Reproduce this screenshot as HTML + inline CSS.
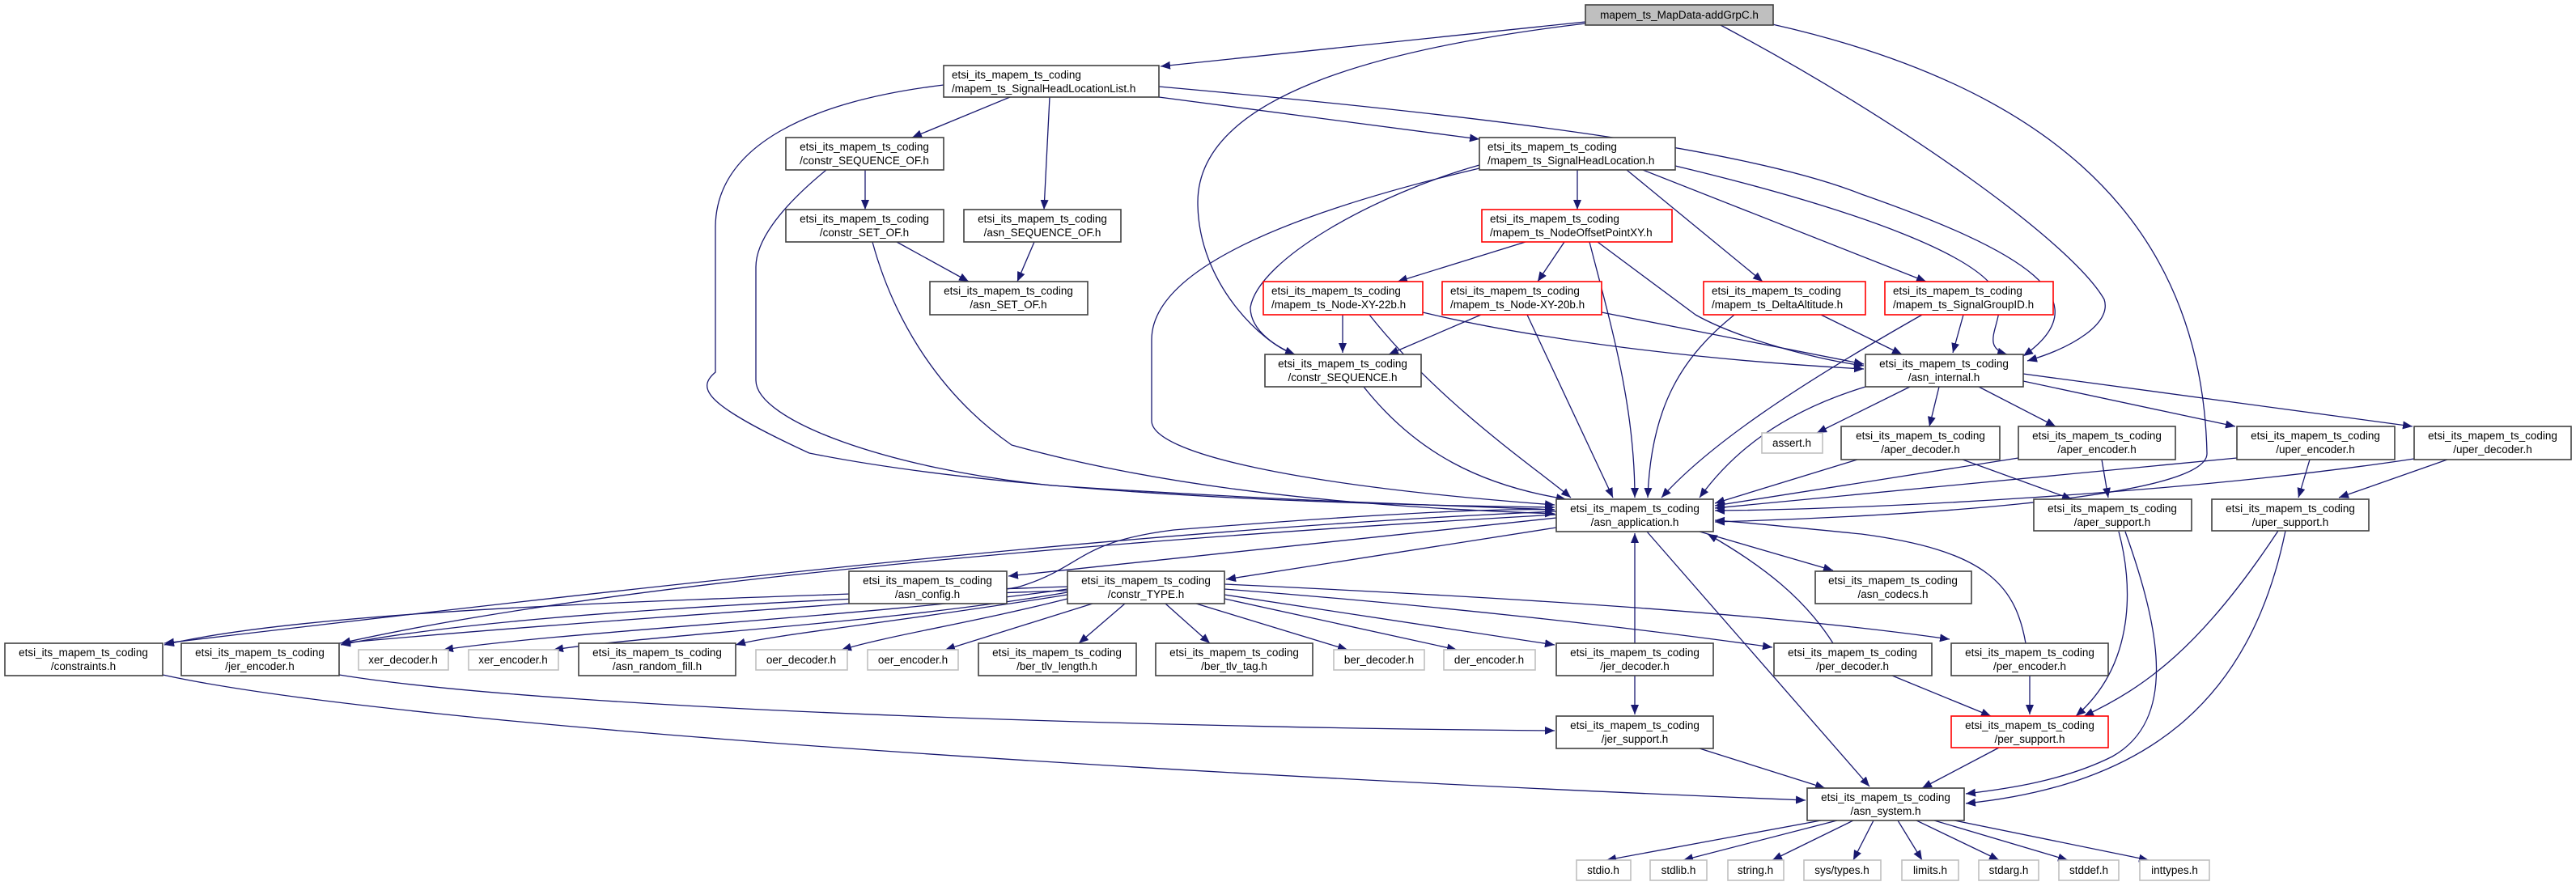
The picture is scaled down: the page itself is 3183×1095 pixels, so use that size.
<!DOCTYPE html>
<html><head><meta charset="utf-8"><style>
html,body{margin:0;padding:0;background:#fff;}
svg{display:block;}
text{font-family:"Liberation Sans",sans-serif;font-size:13.5px;fill:#000;}
.b{fill:#fff;stroke:#404040;stroke-width:1.6;}
.r{fill:#fff;stroke:#ff0000;stroke-width:1.6;}
.g{fill:#fff;stroke:#bfbfbf;stroke-width:1.6;}
.e{fill:none;stroke:#191970;stroke-width:1.3;marker-end:url(#a);}
</style></head><body>
<svg width="3183" height="1095" viewBox="0 0 3183 1095" xmlns="http://www.w3.org/2000/svg">
<defs><marker id="a" markerUnits="userSpaceOnUse" markerWidth="13" markerHeight="10" refX="12" refY="5" orient="auto"><path d="M0,0 L12,5 L0,10 z" fill="#191970"/></marker></defs>
<g>
<path class="e" d="M1959,27 L1434,82"/>
<path class="e" d="M1959,29 C1700,60 1480,120 1480,250 C1480,350 1560,425 1600,438"/>
<path class="e" d="M2126,31 C2350,150 2560,300 2600,370 C2610,400 2560,430 2505,446"/>
<path class="e" d="M2190,30 C2500,100 2720,250 2727,560 C2730,620 2300,640 2119,645"/>
<path class="e" d="M1248,120 L1127,170"/>
<path class="e" d="M1297,120 L1290,259"/>
<path class="e" d="M1432,120 L1828,172"/>
<path class="e" d="M1432,107 C1800,140 2150,180 2300,240 C2500,310 2600,370 2500,440"/>
<path class="e" d="M1166,105 C1000,125 885,180 884,280 L884,460 C860,480 870,500 1000,560 C1300,620 1800,625 1921,627"/>
<path class="e" d="M1021,210 C960,260 934,300 934,330 L934,470 C934,520 1100,580 1300,600 C1600,620 1800,625 1921,630"/>
<path class="e" d="M1069,210 L1069,259"/>
<path class="e" d="M1108,299 L1197,348"/>
<path class="e" d="M1278,299 L1257,348"/>
<path class="e" d="M1078,299 C1100,380 1150,480 1250,550 C1500,620 1800,630 1921,635"/>
<path class="e" d="M1949,210 L1949,259"/>
<path class="e" d="M1828,204 C1700,240 1555,320 1545,380 C1545,410 1580,430 1600,438"/>
<path class="e" d="M1828,208 C1650,250 1423,320 1423,420 L1423,520 C1423,560 1600,600 1921,624"/>
<path class="e" d="M2010,210 L2178,348"/>
<path class="e" d="M2030,210 L2380,348"/>
<path class="e" d="M2070,205 C2300,260 2460,320 2470,370 C2475,400 2445,428 2480,438"/>
<path class="e" d="M1885,299 L1727,348"/>
<path class="e" d="M1933,299 L1900,348"/>
<path class="e" d="M1964,299 C1990,400 2020,500 2020,615"/>
<path class="e" d="M1974,299 L2095,389 C2150,420 2250,445 2303,452"/>
<path class="e" d="M1659,389 L1659,436"/>
<path class="e" d="M1692,389 C1780,500 1900,580 1941,615"/>
<path class="e" d="M1758,386 C1900,420 2100,445 2303,456"/>
<path class="e" d="M1830,389 L1716,438"/>
<path class="e" d="M1887,389 L1993,615"/>
<path class="e" d="M1979,386 L2303,450"/>
<path class="e" d="M2143,389 C2080,440 2040,500 2036,615"/>
<path class="e" d="M2250,389 L2350,438"/>
<path class="e" d="M2375,389 C2250,460 2120,540 2053,615"/>
<path class="e" d="M2426,389 L2413,436"/>
<path class="e" d="M1685,478 C1750,560 1830,600 1935,617"/>
<path class="e" d="M2305,478 C2200,510 2140,560 2100,615"/>
<path class="e" d="M2360,478 L2245,535"/>
<path class="e" d="M2396,478 L2384,527"/>
<path class="e" d="M2445,478 L2540,527"/>
<path class="e" d="M2500,471 L2762,527"/>
<path class="e" d="M2500,462 L2981,527"/>
<path class="e" d="M2295,568 L2119,622"/>
<path class="e" d="M2425,568 L2560,617"/>
<path class="e" d="M2494,566 L2119,625"/>
<path class="e" d="M2597,568 L2605,615"/>
<path class="e" d="M2764,566 L2119,628"/>
<path class="e" d="M2854,568 L2840,615"/>
<path class="e" d="M2983,567 C2700,610 2300,630 2119,631"/>
<path class="e" d="M3024,568 L2890,615"/>
<path class="e" d="M1923,640 L1246,712"/>
<path class="e" d="M1923,652 L1515,716"/>
<path class="e" d="M2100,657 L2265,705"/>
<path class="e" d="M2035,657 L2310,972"/>
<path class="e" d="M1923,632 C1500,650 1000,700 203,795"/>
<path class="e" d="M1923,636 C1500,660 800,710 421,795"/>
<path class="e" d="M1319,725 C900,740 400,750 203,797"/>
<path class="e" d="M1319,730 C1000,740 600,760 421,797"/>
<path class="e" d="M419,795 C800,760 1200,740 1260,725 C1340,700 1330,670 1450,655 C1700,635 1850,628 1921,630"/>
<path class="e" d="M1319,728 C1100,760 700,780 548,803"/>
<path class="e" d="M1319,732 C1100,770 800,785 684,803"/>
<path class="e" d="M1319,735 C1100,770 950,785 909,797"/>
<path class="e" d="M1319,740 C1200,770 1100,785 1040,803"/>
<path class="e" d="M1350,746 L1168,803"/>
<path class="e" d="M1390,746 L1333,795"/>
<path class="e" d="M1440,746 L1495,795"/>
<path class="e" d="M1478,746 L1665,803"/>
<path class="e" d="M1513,740 L1800,803"/>
<path class="e" d="M1513,735 L1921,797"/>
<path class="e" d="M1513,728 C1800,750 2050,780 2190,800"/>
<path class="e" d="M1513,722 C1900,740 2200,760 2409,790"/>
<path class="e" d="M2020,795 L2020,659"/>
<path class="e" d="M2020,835 L2020,883"/>
<path class="e" d="M2265,795 C2230,740 2180,700 2110,660"/>
<path class="e" d="M2503,795 C2490,720 2450,680 2300,660 C2200,650 2150,645 2119,643"/>
<path class="e" d="M2338,835 L2460,885"/>
<path class="e" d="M2508,835 L2508,883"/>
<path class="e" d="M2618,657 C2635,720 2640,820 2565,885"/>
<path class="e" d="M2815,656 C2720,800 2650,850 2575,885"/>
<path class="e" d="M2626,657 C2670,780 2690,890 2610,935 C2550,965 2480,975 2429,981"/>
<path class="e" d="M2824,656 C2780,870 2650,970 2429,993"/>
<path class="e" d="M2470,924 L2375,974"/>
<path class="e" d="M2100,925 L2255,974"/>
<path class="e" d="M201,834 C500,900 1500,960 2231,989"/>
<path class="e" d="M419,834 C700,880 1500,900 1921,903"/>
<path class="e" d="M2250,1014 L1985,1063"/>
<path class="e" d="M2270,1014 L2080,1063"/>
<path class="e" d="M2290,1014 L2190,1063"/>
<path class="e" d="M2315,1014 L2290,1063"/>
<path class="e" d="M2345,1014 L2375,1063"/>
<path class="e" d="M2368,1014 L2470,1063"/>
<path class="e" d="M2390,1014 L2555,1063"/>
<path class="e" d="M2415,1014 L2655,1063"/>
</g>
<g>
<rect x="1959" y="6" width="232" height="25" fill="#bfbfbf" stroke="#404040" stroke-width="1.6"/>
<text x="2075" y="23" text-anchor="middle">mapem_ts_MapData-addGrpC.h</text>

<rect class="b" x="1166" y="81" width="266" height="39"/>
<text x="1176" y="97">etsi_its_mapem_ts_coding</text><text x="1176" y="114">/mapem_ts_SignalHeadLocationList.h</text>

<rect class="b" x="971" y="170" width="195" height="40"/>
<text x="1068" y="186" text-anchor="middle">etsi_its_mapem_ts_coding</text><text x="1068" y="203" text-anchor="middle">/constr_SEQUENCE_OF.h</text>
<rect class="b" x="1828" y="170" width="242" height="40"/>
<text x="1838" y="186">etsi_its_mapem_ts_coding</text><text x="1838" y="203">/mapem_ts_SignalHeadLocation.h</text>

<rect class="b" x="971" y="259" width="195" height="40"/>
<text x="1068" y="275" text-anchor="middle">etsi_its_mapem_ts_coding</text><text x="1068" y="292" text-anchor="middle">/constr_SET_OF.h</text>
<rect class="b" x="1191" y="259" width="194" height="40"/>
<text x="1288" y="275" text-anchor="middle">etsi_its_mapem_ts_coding</text><text x="1288" y="292" text-anchor="middle">/asn_SEQUENCE_OF.h</text>
<rect class="r" x="1831" y="259" width="235" height="40"/>
<text x="1841" y="275">etsi_its_mapem_ts_coding</text><text x="1841" y="292">/mapem_ts_NodeOffsetPointXY.h</text>

<rect class="b" x="1149" y="348" width="195" height="41"/>
<text x="1246" y="364" text-anchor="middle">etsi_its_mapem_ts_coding</text><text x="1246" y="381" text-anchor="middle">/asn_SET_OF.h</text>
<rect class="r" x="1561" y="348" width="197" height="41"/>
<text x="1571" y="364">etsi_its_mapem_ts_coding</text><text x="1571" y="381">/mapem_ts_Node-XY-22b.h</text>
<rect class="r" x="1782" y="348" width="197" height="41"/>
<text x="1792" y="364">etsi_its_mapem_ts_coding</text><text x="1792" y="381">/mapem_ts_Node-XY-20b.h</text>
<rect class="r" x="2105" y="348" width="200" height="41"/>
<text x="2115" y="364">etsi_its_mapem_ts_coding</text><text x="2115" y="381">/mapem_ts_DeltaAltitude.h</text>
<rect class="r" x="2329" y="348" width="208" height="41"/>
<text x="2339" y="364">etsi_its_mapem_ts_coding</text><text x="2339" y="381">/mapem_ts_SignalGroupID.h</text>

<rect class="b" x="1563" y="438" width="193" height="40"/>
<text x="1659" y="454" text-anchor="middle">etsi_its_mapem_ts_coding</text><text x="1659" y="471" text-anchor="middle">/constr_SEQUENCE.h</text>
<rect class="b" x="2305" y="438" width="195" height="40"/>
<text x="2402" y="454" text-anchor="middle">etsi_its_mapem_ts_coding</text><text x="2402" y="471" text-anchor="middle">/asn_internal.h</text>

<rect class="g" x="2177" y="535" width="75" height="25"/>
<text x="2214" y="552" text-anchor="middle">assert.h</text>
<rect class="b" x="2275" y="527" width="196" height="41"/>
<text x="2373" y="543" text-anchor="middle">etsi_its_mapem_ts_coding</text><text x="2373" y="560" text-anchor="middle">/aper_decoder.h</text>
<rect class="b" x="2494" y="527" width="194" height="41"/>
<text x="2591" y="543" text-anchor="middle">etsi_its_mapem_ts_coding</text><text x="2591" y="560" text-anchor="middle">/aper_encoder.h</text>
<rect class="b" x="2764" y="527" width="195" height="41"/>
<text x="2861" y="543" text-anchor="middle">etsi_its_mapem_ts_coding</text><text x="2861" y="560" text-anchor="middle">/uper_encoder.h</text>
<rect class="b" x="2983" y="527" width="194" height="41"/>
<text x="3080" y="543" text-anchor="middle">etsi_its_mapem_ts_coding</text><text x="3080" y="560" text-anchor="middle">/uper_decoder.h</text>

<rect class="b" x="1923" y="617" width="194" height="40"/>
<text x="2020" y="633" text-anchor="middle">etsi_its_mapem_ts_coding</text><text x="2020" y="650" text-anchor="middle">/asn_application.h</text>
<rect class="b" x="2513" y="617" width="195" height="39"/>
<text x="2610" y="633" text-anchor="middle">etsi_its_mapem_ts_coding</text><text x="2610" y="650" text-anchor="middle">/aper_support.h</text>
<rect class="b" x="2733" y="617" width="194" height="39"/>
<text x="2830" y="633" text-anchor="middle">etsi_its_mapem_ts_coding</text><text x="2830" y="650" text-anchor="middle">/uper_support.h</text>

<rect class="b" x="1049" y="706" width="195" height="40"/>
<text x="1146" y="722" text-anchor="middle">etsi_its_mapem_ts_coding</text><text x="1146" y="739" text-anchor="middle">/asn_config.h</text>
<rect class="b" x="1319" y="706" width="194" height="40"/>
<text x="1416" y="722" text-anchor="middle">etsi_its_mapem_ts_coding</text><text x="1416" y="739" text-anchor="middle">/constr_TYPE.h</text>
<rect class="b" x="2243" y="706" width="193" height="40"/>
<text x="2339" y="722" text-anchor="middle">etsi_its_mapem_ts_coding</text><text x="2339" y="739" text-anchor="middle">/asn_codecs.h</text>

<rect class="b" x="6" y="795" width="195" height="40"/>
<text x="103" y="811" text-anchor="middle">etsi_its_mapem_ts_coding</text><text x="103" y="828" text-anchor="middle">/constraints.h</text>
<rect class="b" x="224" y="795" width="195" height="40"/>
<text x="321" y="811" text-anchor="middle">etsi_its_mapem_ts_coding</text><text x="321" y="828" text-anchor="middle">/jer_encoder.h</text>
<rect class="g" x="443" y="803" width="111" height="25"/>
<text x="498" y="820" text-anchor="middle">xer_decoder.h</text>
<rect class="g" x="579" y="803" width="111" height="25"/>
<text x="634" y="820" text-anchor="middle">xer_encoder.h</text>
<rect class="b" x="715" y="795" width="194" height="40"/>
<text x="812" y="811" text-anchor="middle">etsi_its_mapem_ts_coding</text><text x="812" y="828" text-anchor="middle">/asn_random_fill.h</text>
<rect class="g" x="934" y="803" width="113" height="25"/>
<text x="990" y="820" text-anchor="middle">oer_decoder.h</text>
<rect class="g" x="1072" y="803" width="112" height="25"/>
<text x="1128" y="820" text-anchor="middle">oer_encoder.h</text>
<rect class="b" x="1209" y="795" width="195" height="40"/>
<text x="1306" y="811" text-anchor="middle">etsi_its_mapem_ts_coding</text><text x="1306" y="828" text-anchor="middle">/ber_tlv_length.h</text>
<rect class="b" x="1428" y="795" width="194" height="40"/>
<text x="1525" y="811" text-anchor="middle">etsi_its_mapem_ts_coding</text><text x="1525" y="828" text-anchor="middle">/ber_tlv_tag.h</text>
<rect class="g" x="1648" y="803" width="112" height="25"/>
<text x="1704" y="820" text-anchor="middle">ber_decoder.h</text>
<rect class="g" x="1784" y="803" width="113" height="25"/>
<text x="1840" y="820" text-anchor="middle">der_encoder.h</text>
<rect class="b" x="1923" y="795" width="194" height="40"/>
<text x="2020" y="811" text-anchor="middle">etsi_its_mapem_ts_coding</text><text x="2020" y="828" text-anchor="middle">/jer_decoder.h</text>
<rect class="b" x="2192" y="795" width="195" height="40"/>
<text x="2289" y="811" text-anchor="middle">etsi_its_mapem_ts_coding</text><text x="2289" y="828" text-anchor="middle">/per_decoder.h</text>
<rect class="b" x="2411" y="795" width="194" height="40"/>
<text x="2508" y="811" text-anchor="middle">etsi_its_mapem_ts_coding</text><text x="2508" y="828" text-anchor="middle">/per_encoder.h</text>

<rect class="b" x="1923" y="885" width="194" height="40"/>
<text x="2020" y="901" text-anchor="middle">etsi_its_mapem_ts_coding</text><text x="2020" y="918" text-anchor="middle">/jer_support.h</text>
<rect class="r" x="2411" y="885" width="194" height="39"/>
<text x="2508" y="901" text-anchor="middle">etsi_its_mapem_ts_coding</text><text x="2508" y="918" text-anchor="middle">/per_support.h</text>

<rect class="b" x="2233" y="974" width="194" height="40"/>
<text x="2330" y="990" text-anchor="middle">etsi_its_mapem_ts_coding</text><text x="2330" y="1007" text-anchor="middle">/asn_system.h</text>

<rect class="g" x="1948" y="1063" width="67" height="25"/><text x="1981" y="1080" text-anchor="middle">stdio.h</text>
<rect class="g" x="2039" y="1063" width="70" height="25"/><text x="2074" y="1080" text-anchor="middle">stdlib.h</text>
<rect class="g" x="2135" y="1063" width="69" height="25"/><text x="2169" y="1080" text-anchor="middle">string.h</text>
<rect class="g" x="2229" y="1063" width="95" height="25"/><text x="2276" y="1080" text-anchor="middle">sys/types.h</text>
<rect class="g" x="2350" y="1063" width="70" height="25"/><text x="2385" y="1080" text-anchor="middle">limits.h</text>
<rect class="g" x="2445" y="1063" width="74" height="25"/><text x="2482" y="1080" text-anchor="middle">stdarg.h</text>
<rect class="g" x="2544" y="1063" width="74" height="25"/><text x="2581" y="1080" text-anchor="middle">stddef.h</text>
<rect class="g" x="2644" y="1063" width="86" height="25"/><text x="2687" y="1080" text-anchor="middle">inttypes.h</text>
</g>
</svg>
</body></html>
